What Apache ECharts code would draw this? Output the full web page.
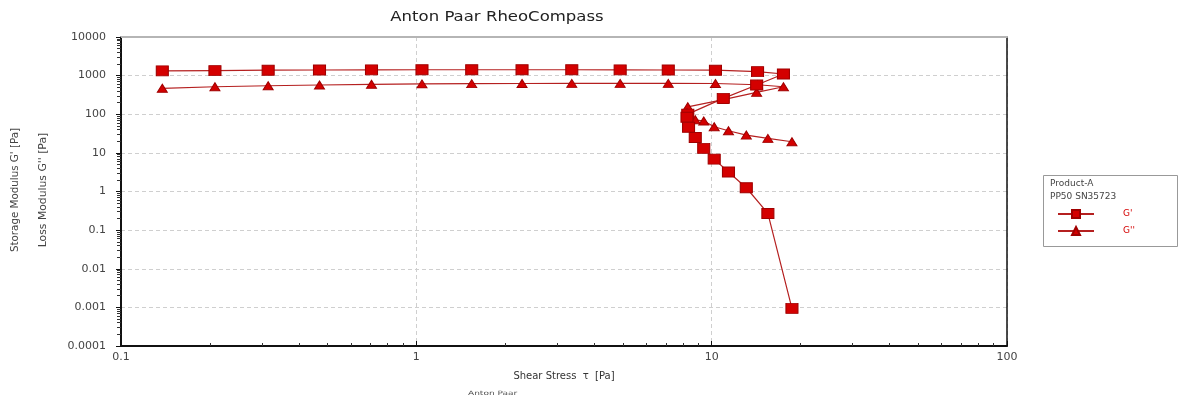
<!DOCTYPE html>
<html>
<head>
<meta charset="utf-8">
<script src="https://cdn.jsdelivr.net/npm/echarts@6/dist/echarts.min.js"></script>
<style>
  html, body { margin: 0; padding: 0; background: #fff; }
  #chart { width: 1183px; height: 403px; }
</style>
</head>
<body>
<div id="chart"></div>
<script>
// Amplitude sweep: shear stress [Pa] with storage (G') and loss (G'') moduli [Pa]
const stress = [0.138, 0.208, 0.315, 0.47, 0.705, 1.045, 1.54, 2.28, 3.36, 4.9, 7.13, 10.3, 14.3, 17.5,
                14.2, 10.95, 8.3, 8.25, 8.35, 8.8, 9.4, 10.2, 11.4, 13.1, 15.5, 18.7];
const storageModulus = [1330, 1350, 1380, 1400, 1410, 1420, 1420, 1420, 1420, 1410, 1400, 1380, 1270, 1100,
                        570, 258, 101, 84, 46, 25, 13.1, 6.9, 3.2, 1.25, 0.27, 0.00094];
const lossModulus = [470, 515, 547, 571, 596, 610, 620, 625, 630, 630, 630, 625, 580, 515,
                     369, 240, 156, 110, 85, 72, 66.7, 47.5, 37.4, 28.9, 23.7, 19.4];
const yTickLabels = ['0.0001', '0.001', '0.01', '0.1', '1', '10', '100', '1000', '10000'];
const xTickLabels = ['0.1', '1', '10', '100'];
const seriesNames = ["G'", "G''"];

const chart = echarts.init(document.getElementById('chart'), null, { renderer: 'canvas' });

const pairs = (ys) => stress.map((x, i) => [x, ys[i]]);
const RED = '#d40000';
const font = 'DejaVu Sans, Liberation Sans, sans-serif';

const option = {
  animation: false,
  backgroundColor: '#fff',
  legend: {
    left: 1052, top: 204, orient: 'vertical',
    itemWidth: 36, itemHeight: 10, itemGap: 7,
    data: seriesNames,
    textStyle: { fontFamily: font, fontSize: 9, color: RED, padding: [0, 0, 0, 24] }
  },
  grid: { left: 121, right: 176, top: 37, bottom: 57, containLabel: false },
  xAxis: [{
    type: 'log', logBase: 10, min: 0.1, max: 100,
    axisLine: { show: true, lineStyle: { color: '#111', width: 2 } },
    axisTick: { show: true, inside: true, length: 5, lineStyle: { color: '#111' } },
    minorTick: { show: true, splitNumber: 9, length: 3, lineStyle: { color: '#333' } },
    axisLabel: {
      fontFamily: font, fontSize: 11, color: '#444', margin: 6,
      formatter: (v) => xTickLabels[Math.round(Math.log10(v)) + 1]
    },
    splitLine: { show: true, lineStyle: { color: '#cfcfcf', type: [4, 3], width: 1 } }
  }, {
    type: 'log', logBase: 10, min: 0.1, max: 100, position: 'top',
    axisLine: { show: true, lineStyle: { color: '#b5b5b5', width: 2 } },
    axisTick: { show: false }, axisLabel: { show: false }, splitLine: { show: false }
  }],
  yAxis: [{
    type: 'log', logBase: 10, min: 0.0001, max: 10000,
    axisLine: { show: true, lineStyle: { color: '#111', width: 2 } },
    axisTick: { show: true, inside: false, length: 5, lineStyle: { color: '#111' } },
    minorTick: { show: true, splitNumber: 9, length: 4, lineStyle: { color: '#333' } },
    axisLabel: {
      fontFamily: font, fontSize: 11, color: '#444', margin: 15,
      formatter: (v) => yTickLabels[Math.round(Math.log10(v)) + 4]
    },
    splitLine: { show: true, lineStyle: { color: '#cfcfcf', type: [4, 3], width: 1 } }
  }, {
    type: 'log', logBase: 10, min: 0.0001, max: 10000, position: 'right',
    axisLine: { show: true, lineStyle: { color: '#111', width: 1.5 } },
    axisTick: { show: false }, axisLabel: { show: false }, splitLine: { show: false }
  }],
  series: [{
    name: seriesNames[0], type: 'line', data: pairs(storageModulus),
    symbol: 'rect', symbolSize: [12, 10],
    itemStyle: { color: RED, borderColor: '#a00000', borderWidth: 1 },
    lineStyle: { color: '#b52020', width: 1.2 },
    z: 3
  }, {
    name: seriesNames[1], type: 'line', data: pairs(lossModulus),
    symbol: 'triangle', symbolSize: [10, 8],
    itemStyle: { color: RED, borderColor: '#a00000', borderWidth: 1 },
    lineStyle: { color: '#b52020', width: 1.2 },
    z: 2
  }],
  graphic: [
    // chart title
    { type: 'text', x: 497, y: 17, scaleX: 1.18,
      style: { text: 'Anton Paar RheoCompass', fontFamily: font, fontSize: 14, fill: '#222',
               align: 'center', verticalAlign: 'middle' } },
    // x axis title
    { type: 'text', x: 564, y: 376,
      style: { text: 'Shear Stress  \u03c4  [Pa]', fontFamily: font, fontSize: 10, fill: '#333',
               align: 'center', verticalAlign: 'middle' } },
    // y axis titles
    { type: 'text', x: 15, y: 190, rotation: Math.PI / 2, scaleX: 1.03,
      style: { text: "Storage Modulus G' [Pa]", fontFamily: font, fontSize: 10, fill: '#444',
               align: 'center', verticalAlign: 'middle' } },
    { type: 'text', x: 43, y: 190, rotation: Math.PI / 2, scaleX: 1.08,
      style: { text: "Loss Modulus G'' [Pa]", fontFamily: font, fontSize: 10, fill: '#444',
               align: 'center', verticalAlign: 'middle' } },
    { type: 'text', x: 468, y: 393, scaleX: 1.5,
      style: { text: 'Anton Paar', fontFamily: font, fontSize: 6, fill: '#555',
               verticalAlign: 'middle' } },
    // legend frame and header
    { type: 'rect', shape: { x: 1043.5, y: 175.5, width: 134, height: 71 },
      style: { fill: 'none', stroke: '#999', lineWidth: 1 }, z: -1 },
    { type: 'text', x: 1050, y: 179,
      style: { text: 'Product-A', fontFamily: font, fontSize: 9, fill: '#444' } },
    { type: 'text', x: 1050, y: 192,
      style: { text: 'PP50 SN35723', fontFamily: font, fontSize: 9, fill: '#444' } }
  ]
};

chart.setOption(option);
</script>
</body>
</html>
